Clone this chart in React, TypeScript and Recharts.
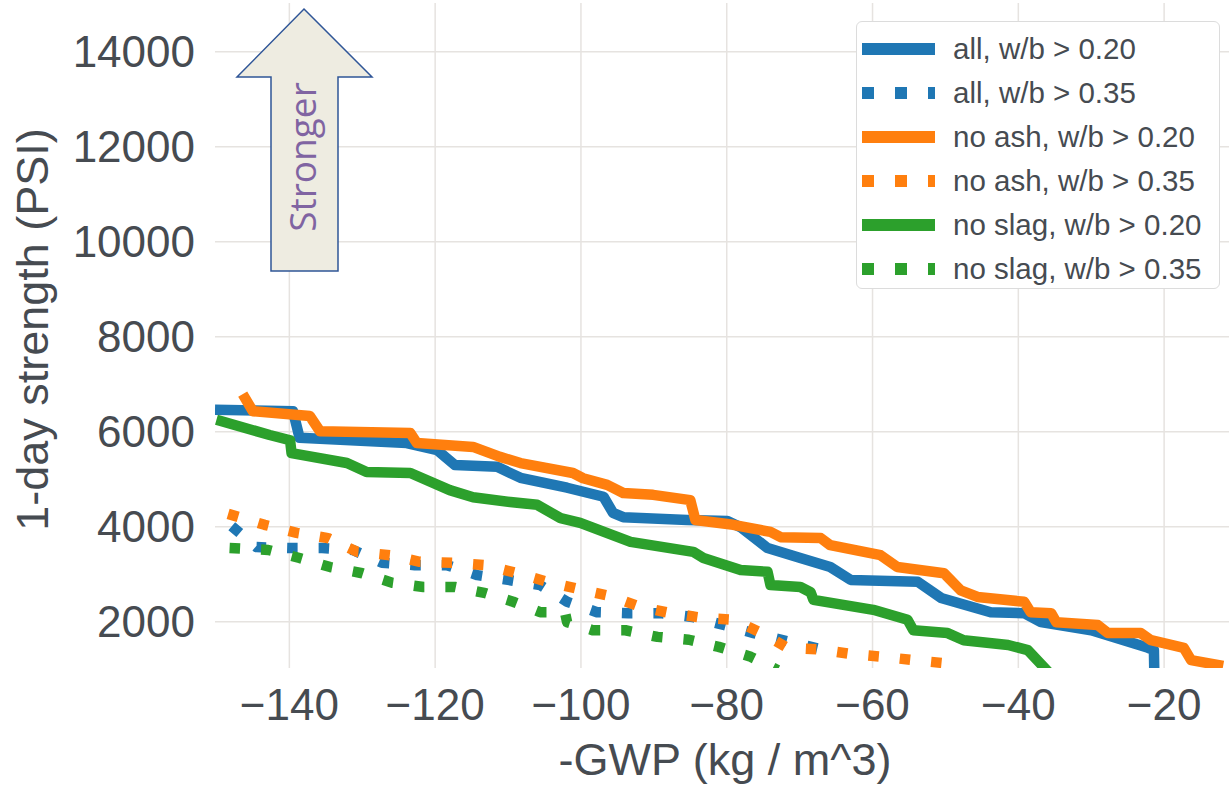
import React from "react";
import { LineChart, Line, XAxis, YAxis, CartesianGrid, Legend, Label } from "recharts";

// -GWP (kg/m^3) vs 1-day strength (PSI)
const allSolidGwp = [-150.2, -139.5, -138.6, -123.9, -119.7, -117.3, -111.5, -108.3, -101.9, -96.9, -95.6, -94.2, -85.4, -79.9, -78.1, -74.4, -69.9, -65.8, -63.0, -53.8, -50.6, -43.8, -39.2, -36.9, -30.0, -22.2, -21.4, -21.3];
const allSolidPsi = [6460, 6430, 5870, 5760, 5610, 5300, 5260, 5030, 4820, 4630, 4290, 4200, 4140, 4120, 3990, 3550, 3340, 3150, 2880, 2840, 2500, 2200, 2180, 1990, 1820, 1450, 1400, 500];

const allDotGwp = [-147.9, -144.5, -139.9, -135.5, -131.3, -127.3, -122.8, -118.4, -114.2, -110.0, -105.6, -101.9, -97.8, -93.5, -89.1, -84.7, -80.4, -76.3, -71.7, -67.3, -65.8];
const allDotPsi = [4010, 3570, 3550, 3550, 3510, 3240, 3190, 3190, 2980, 2880, 2770, 2420, 2200, 2180, 2180, 2100, 1930, 1760, 1590, 1430, 1360];

const noAshSolidGwp = [-146.4, -145.0, -137.2, -135.8, -123.4, -122.5, -114.8, -111.1, -108.3, -101.1, -99.7, -96.4, -94.2, -90.1, -85.0, -84.3, -79.1, -74.0, -72.6, -67.1, -65.8, -58.9, -56.6, -50.2, -47.9, -45.6, -39.2, -38.3, -35.5, -34.8, -29.1, -27.7, -23.2, -21.8, -17.3, -16.3, -11.9];
const noAshSolidPsi = [6790, 6430, 6330, 6010, 5970, 5760, 5680, 5470, 5340, 5130, 5020, 4880, 4710, 4670, 4560, 4140, 4040, 3890, 3780, 3760, 3610, 3400, 3150, 3020, 2660, 2520, 2420, 2200, 2180, 1990, 1930, 1760, 1760, 1610, 1450, 1190, 1070];

const noAshDotGwp = [-148.4, -143.4, -139.0, -134.7, -130.7, -126.2, -122.1, -117.5, -113.1, -108.7, -104.6, -100.4, -96.0, -91.8, -87.7, -83.3, -79.1, -74.9, -71.7, -67.4, -63.0, -58.6, -54.3, -48.4];
const noAshDotPsi = [4270, 4040, 3870, 3760, 3470, 3400, 3260, 3240, 3190, 3020, 2840, 2690, 2540, 2310, 2180, 2080, 2040, 1740, 1450, 1420, 1320, 1260, 1190, 1100];

const noSlagSolidGwp = [-150.0, -142.7, -139.9, -139.7, -132.1, -129.4, -123.4, -118.0, -114.8, -109.7, -106.0, -102.8, -100.1, -93.2, -84.6, -83.2, -78.1, -74.4, -74.0, -69.9, -68.5, -68.1, -59.9, -55.2, -54.4, -49.7, -47.5, -41.4, -38.7, -35.5];
const noSlagSolidPsi = [6250, 5930, 5820, 5550, 5340, 5150, 5130, 4770, 4620, 4520, 4460, 4180, 4080, 3680, 3470, 3340, 3090, 3050, 2770, 2730, 2620, 2460, 2250, 2040, 1820, 1760, 1610, 1510, 1400, 880];

const noSlagDotGwp = [-148.2, -142.9, -138.6, -134.4, -130.0, -125.9, -121.6, -117.3, -113.1, -109.3, -105.6, -102.2, -101.9, -98.4, -93.9, -89.5, -85.2, -81.1, -76.7, -73.0];
const noSlagDotPsi = [3550, 3510, 3340, 3150, 3020, 2820, 2730, 2730, 2600, 2420, 2200, 2200, 1990, 1820, 1820, 1680, 1620, 1470, 1260, 980];

const xTicks = [-140, -120, -100, -80, -60, -40, -20];
const yTicks = [2000, 4000, 6000, 8000, 10000, 12000, 14000];
const xDomain = [-150.2, -11.1];
const yDomain = [1025, 15025];

const zip = (xs: number[], ys: number[]) => xs.map((x, i) => ({ x, y: ys[i] }));

const BLUE = "#1f77b4";
const ORANGE = "#ff7f0e";
const GREEN = "#2ca02c";
const DOTS = "10.5 21";

const series = [
  { name: "all, w/b > 0.20", color: BLUE, dotted: false, data: zip(allSolidGwp, allSolidPsi) },
  { name: "all, w/b > 0.35", color: BLUE, dotted: true, data: zip(allDotGwp, allDotPsi) },
  { name: "no ash, w/b > 0.20", color: ORANGE, dotted: false, data: zip(noAshSolidGwp, noAshSolidPsi) },
  { name: "no ash, w/b > 0.35", color: ORANGE, dotted: true, data: zip(noAshDotGwp, noAshDotPsi) },
  { name: "no slag, w/b > 0.20", color: GREEN, dotted: false, data: zip(noSlagSolidGwp, noSlagSolidPsi) },
  { name: "no slag, w/b > 0.35", color: GREEN, dotted: true, data: zip(noSlagDotGwp, noSlagDotPsi) },
];

const FONT = "'Liberation Sans', Arial, sans-serif";
const TEXT = "#464b51";

// grid lines only at the tick values (no frame at the plot edges)
const hGrid = ({ offset }: any) =>
  yTicks.map((t) => offset.top + (1 - (t - yDomain[0]) / (yDomain[1] - yDomain[0])) * offset.height);
const vGrid = ({ offset }: any) =>
  xTicks.map((t) => offset.left + ((t - xDomain[0]) / (xDomain[1] - xDomain[0])) * offset.width);

const LegendBox = () => (
  <div
    style={{
      width: 364,
      height: 268,
      boxSizing: "border-box",
      background: "#fff",
      border: "1.5px solid #dcdcdc",
      borderRadius: 6,
      paddingTop: 5,
    }}
  >
    {series.map((s) => (
      <div key={s.name} style={{ display: "flex", alignItems: "center", height: 44 }}>
        <svg width={96} height={14} style={{ flexShrink: 0 }}>
          <line
            x1={5} x2={78} y1={7} y2={7}
            stroke={s.color}
            strokeWidth={12}
            strokeDasharray={s.dotted ? "12 21" : undefined}
          />
        </svg>
        <span style={{ fontFamily: FONT, fontSize: 29.5, color: TEXT, whiteSpace: "nowrap" }}>{s.name}</span>
      </div>
    ))}
  </div>
);

export default function App() {
  return (
    <div style={{ position: "absolute", left: 0, top: 0, width: 1229, height: 788, background: "#fff", overflow: "hidden" }}>
      <LineChart width={1229} height={788} margin={{ top: 3, right: 0, bottom: 0, left: 0 }} style={{ fontFamily: FONT }}>
        <CartesianGrid
          stroke="#e6e3e0"
          strokeWidth={1.5}
          horizontalCoordinatesGenerator={hGrid}
          verticalCoordinatesGenerator={vGrid}
        />
        <XAxis
          type="number"
          dataKey="x"
          domain={xDomain}
          ticks={xTicks}
          allowDataOverflow
          height={120}
          axisLine={false}
          tickLine={false}
          tickSize={0}
          tickMargin={21}
          tick={{ fontSize: 44, fill: TEXT, fontFamily: FONT }}
          tickFormatter={(v: number) => String(v).replace("-", "\u2212")}
        >
          <Label
            content={({ viewBox }: any) => (
              <text x={viewBox.x + viewBox.width / 2 + 3} y={775} textAnchor="middle" fontSize={45} fill={TEXT} fontFamily={FONT}>
                -GWP (kg / m^3)
              </text>
            )}
          />
        </XAxis>
        <YAxis
          type="number"
          dataKey="y"
          domain={yDomain}
          ticks={yTicks}
          allowDataOverflow
          width={215}
          axisLine={false}
          tickLine={false}
          tickSize={0}
          tickMargin={20}
          tick={{ fontSize: 44, fill: TEXT, fontFamily: FONT }}
        >
          <Label
            content={({ viewBox }: any) => {
              const cy = viewBox.y + viewBox.height / 2 - 6;
              return (
                <text x={48} y={cy} transform={`rotate(-90 48 ${cy})`} textAnchor="middle" fontSize={45} fill={TEXT} fontFamily={FONT}>
                  1-day strength (PSI)
                </text>
              );
            }}
          />
        </YAxis>
        {series.map((s) => (
          <Line
            key={s.name}
            data={s.data}
            dataKey="y"
            name={s.name}
            type="linear"
            stroke={s.color}
            strokeWidth={10.5}
            strokeDasharray={s.dotted ? DOTS : undefined}
            strokeLinejoin="round"
            strokeLinecap="butt"
            dot={false}
            activeDot={false}
            isAnimationActive={false}
          />
        ))}
        <Legend
          layout="horizontal"
          verticalAlign="middle"
          align="center"
          content={<LegendBox />}
          wrapperStyle={{ position: "absolute", top: 21, left: 856, width: 364, height: 268 }}
        />
      </LineChart>

      {/* "Stronger" arrow annotation */}
      <svg width={1229} height={788} style={{ position: "absolute", left: 0, top: 0, pointerEvents: "none" }}>
        <path
          d="M304 9 L372 77 L338 77 L338 271 L271 271 L271 77 L237 77 Z"
          fill="#eeece1"
          stroke="#2f5597"
          strokeWidth={1.5}
        />
        <text
          x={316}
          y={157}
          transform="rotate(-90 316 157)"
          textAnchor="middle"
          fontSize={37}
          fill="#8064a2"
          fontFamily="'Open Sans', sans-serif"
        >
          Stronger
        </text>
      </svg>
    </div>
  );
}
